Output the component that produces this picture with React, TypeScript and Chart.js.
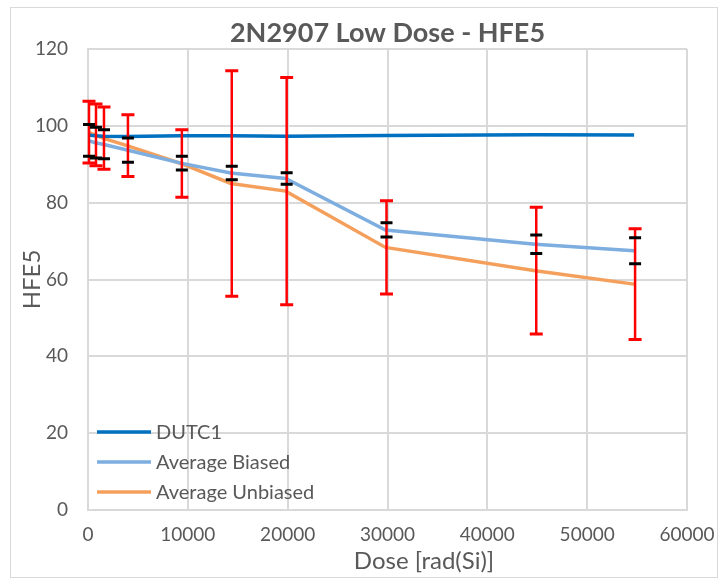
import React, { useEffect, useRef } from "react";
import { Chart, registerables } from "chart.js";

Chart.register(...registerables);

const chartTitle = "2N2907 Low Dose - HFE5";
const xAxisTitle = "Dose [rad(Si)]";
const yAxisTitle = "HFE5";

const doseRad = [0, 700, 1500, 3900, 9300, 14300, 19800, 29800, 44800, 54700];
const dutc1 = [97.6, 97.4, 97.3, 97.2, 97.4, 97.4, 97.3, 97.5, 97.7, 97.6];
const biasedAvg = [96.2, 95.6, 95.2, 93.7, 90.3, 87.7, 86.3, 72.9, 69.2, 67.5];
const biasedErr = [4.15, 4.0, 3.8, 3.15, 1.8, 1.75, 1.5, 1.85, 2.4, 3.4];
const unbiasedAvg = [98.35, 97.65, 96.8, 94.85, 90.2, 85.0, 83.0, 68.35, 62.3, 58.8];
const unbiasedErr = [8.05, 8.05, 8.1, 8.05, 8.8, 29.35, 29.6, 12.15, 16.5, 14.4];

const seriesNames = ["DUTC1", "Average Biased", "Average Unbiased"];
const seriesColors = ["#0070C0", "#7DAEDF", "#F4A05C"];

const FONT = "Lato, 'Open Sans', 'DejaVu Sans', sans-serif";
const TEXT = "#595959";

export default function App() {
  const canvasRef = useRef<HTMLCanvasElement | null>(null);

  useEffect(() => {
    const canvas = canvasRef.current;
    if (!canvas) return;

    const toPts = (ys: number[]) => doseRad.map((x, i) => ({ x, y: ys[i] }));

    const framePlugin = {
      id: "frame",
      beforeDraw(chart: any) {
        const ctx = chart.ctx;
        ctx.save();
        ctx.fillStyle = "#ffffff";
        ctx.fillRect(0, 0, chart.width, chart.height);
        ctx.strokeStyle = "#d9d9d9";
        ctx.lineWidth = 1;
        ctx.strokeRect(10.5, 7.5, 707, 570);
        ctx.restore();
      },
    };

    const drawBars = (chart: any, means: number[], errs: number[], color: string, vertical: boolean, capW: number) => {
      const ctx = chart.ctx;
      const xs = chart.scales.x;
      const ys = chart.scales.y;
      ctx.save();
      ctx.strokeStyle = color;
      doseRad.forEach((d, i) => {
        const px = xs.getPixelForValue(d) + 1;
        const top = ys.getPixelForValue(means[i] + errs[i]);
        const bot = ys.getPixelForValue(means[i] - errs[i]);
        if (vertical) {
          ctx.lineWidth = 2.5;
          ctx.beginPath();
          ctx.moveTo(px, top);
          ctx.lineTo(px, bot);
          ctx.stroke();
        }
        ctx.lineWidth = 3;
        ctx.beginPath();
        ctx.moveTo(px - capW, top);
        ctx.lineTo(px + capW, top);
        ctx.moveTo(px - capW, bot);
        ctx.lineTo(px + capW, bot);
        ctx.stroke();
      });
      ctx.restore();
    };

    const overlayPlugin = {
      id: "overlay",
      afterDatasetsDraw(chart: any) {
        drawBars(chart, unbiasedAvg, unbiasedErr, "#FF0000", true, 6.5);
        drawBars(chart, biasedAvg, biasedErr, "#000000", false, 6);
      },
      afterDraw(chart: any) {
        const ctx = chart.ctx;
        const area = chart.chartArea;
        ctx.save();
        ctx.fillStyle = TEXT;
        ctx.font = `bold 27px ${FONT}`;
        ctx.textAlign = "center";
        ctx.textBaseline = "middle";
        ctx.fillText(chartTitle, (area.left + area.right) / 2, 33);

        ctx.font = `24px ${FONT}`;
        ctx.fillText(xAxisTitle, 424, 561);

        ctx.font = `20px ${FONT}`;
        ctx.textAlign = "left";
        const rows = [432, 462, 492];
        seriesNames.forEach((name, i) => {
          ctx.strokeStyle = seriesColors[i];
          ctx.lineWidth = 3.5;
          ctx.beginPath();
          ctx.moveTo(97, rows[i]);
          ctx.lineTo(151, rows[i]);
          ctx.stroke();
          ctx.fillStyle = TEXT;
          ctx.fillText(name, 156, rows[i] + 1);
        });
        ctx.restore();
      },
    };

    const chart = new Chart(canvas, {
      type: "scatter",
      data: {
        datasets: [
          { label: seriesNames[0], data: toPts(dutc1), borderColor: seriesColors[0], backgroundColor: seriesColors[0], showLine: true, borderWidth: 3.5, pointRadius: 0, tension: 0 },
          { label: seriesNames[1], data: toPts(biasedAvg), borderColor: seriesColors[1], backgroundColor: seriesColors[1], showLine: true, borderWidth: 3.5, pointRadius: 0, tension: 0 },
          { label: seriesNames[2], data: toPts(unbiasedAvg), borderColor: seriesColors[2], backgroundColor: seriesColors[2], showLine: true, borderWidth: 3.5, pointRadius: 0, tension: 0 },
        ],
      },
      options: {
        responsive: false,
        animation: false,
        layout: { padding: { top: 49, left: 0, right: 33, bottom: 0 } },
        plugins: {
          legend: { display: false },
          title: { display: false },
          tooltip: { enabled: false },
        },
        scales: {
          x: {
            type: "linear",
            min: 0,
            max: 60000,
            afterFit: (s: any) => { s.height = 69; s.paddingLeft = 0; s.paddingRight = 0; },
            ticks: {
              stepSize: 10000,
              padding: 13,
              color: TEXT,
              font: { family: FONT, size: 19 },
              callback: (v: any) => String(v),
              maxRotation: 0,
            },
            grid: { color: "#d9d9d9", lineWidth: 2, drawTicks: false },
            border: { display: true, color: "#d9d9d9", width: 2 },
            title: { display: false, text: xAxisTitle },
          },
          y: {
            type: "linear",
            min: 0,
            max: 120,
            afterFit: (s: any) => { s.width = 88; s.paddingTop = 0; s.paddingBottom = 0; },
            ticks: {
              stepSize: 20,
              padding: 20,
              color: TEXT,
              font: { family: FONT, size: 19 },
            },
            grid: { color: "#d9d9d9", lineWidth: 2, drawTicks: false },
            border: { display: true, color: "#d9d9d9", width: 2 },
            title: { display: true, text: yAxisTitle, color: TEXT, font: { family: FONT, size: 24 }, padding: { top: 18, bottom: 0 } },
          },
        },
      },
      plugins: [framePlugin, overlayPlugin],
    });

    return () => chart.destroy();
  }, []);

  return (
    <div style={{ position: "fixed", left: 0, top: 0, width: 720, height: 579, background: "#fff" }}>
      <canvas ref={canvasRef} width={720} height={579} style={{ display: "block", width: 720, height: 579 }} />
    </div>
  );
}
